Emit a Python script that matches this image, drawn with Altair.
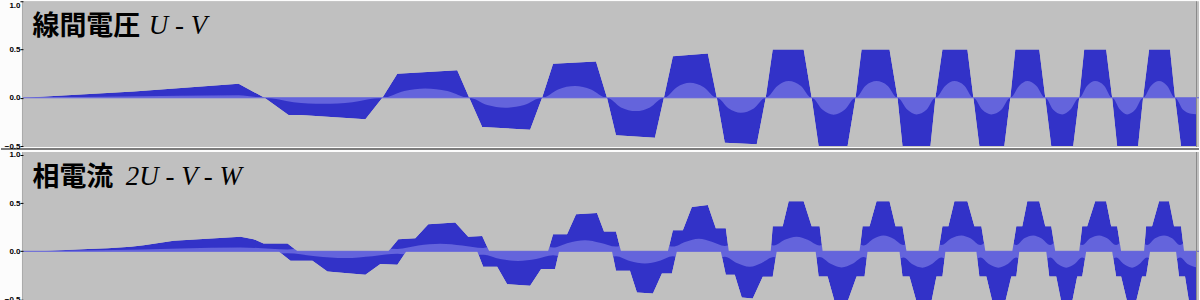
import altair as alt
import pandas as pd

# ---------------- data ----------------
# Top track: line voltage U - V  (max envelope, min envelope, rms)
T_MAX_X = [22, 133, 238, 264, 382, 397, 457, 469, 542, 553, 596, 607, 664, 673, 708, 717,
           766, 773, 804, 812, 856, 862, 890, 898, 936, 943, 968, 974, 1011, 1016, 1040, 1046,
           1080, 1085, 1107, 1113, 1144, 1150, 1171, 1176, 1197]
T_MAX_V = [0, 0.065, 0.145, 0, 0, 0.248, 0.286, 0, 0, 0.352, 0.376, 0, 0, 0.431, 0.459, 0,
           0, 0.5, 0.5, 0, 0, 0.5, 0.5, 0, 0, 0.5, 0.5, 0, 0, 0.5, 0.5, 0,
           0, 0.5, 0.5, 0, 0, 0.5, 0.5, 0, 0]
T_MIN_X = [22, 264, 288, 300, 365, 382, 469, 482, 530, 542, 607, 616, 655, 664, 717, 725, 757, 766,
           812, 819, 848, 856, 898, 903, 931, 936, 974, 980, 1005, 1011, 1046, 1052, 1074, 1080,
           1113, 1118, 1139, 1144, 1176, 1182, 1197]
T_MIN_V = [0, 0, -0.179, -0.179, -0.223, 0, 0, -0.303, -0.331, 0, 0, -0.389, -0.414, 0, 0, -0.465, -0.482, 0,
           0, -0.5, -0.5, 0, 0, -0.5, -0.5, 0, 0, -0.5, -0.5, 0, 0, -0.5, -0.5, 0,
           0, -0.5, -0.5, 0, 0, -0.5, -0.5]
T_RMS_X = [22, 100, 180, 238, 264, 293, 323, 352, 382, 404, 425, 447, 469, 487, 505, 524, 542,
           558, 575, 591, 607, 621, 636, 650, 664, 677, 690, 704, 717, 729, 741, 754, 766,
           778, 789, 801, 812, 823, 834, 845, 856, 866, 877, 888, 898, 908, 917, 927, 936,
           946, 955, 965, 974, 983, 992, 1002, 1011, 1020, 1028, 1037, 1046, 1054, 1063, 1071, 1080,
           1088, 1096, 1105, 1113, 1121, 1128, 1136, 1144, 1152, 1160, 1168, 1176, 1184, 1192, 1197]
T_RMS_V = [0, 0.01, 0.02, 0.027, 0, 0.045, 0.062, 0.045, 0, 0.07, 0.097, 0.07, 0, 0.075, 0.103, 0.075, 0,
           0.087, 0.121, 0.087, 0, 0.1, 0.138, 0.1, 0, 0.11, 0.155, 0.11, 0, 0.11, 0.155, 0.11, 0,
           0.125, 0.173, 0.125, 0, 0.125, 0.175, 0.125, 0, 0.125, 0.173, 0.125, 0, 0.125, 0.172, 0.125, 0,
           0.125, 0.173, 0.125, 0, 0.125, 0.172, 0.125, 0, 0.125, 0.173, 0.125, 0, 0.125, 0.172, 0.125, 0,
           0.125, 0.173, 0.125, 0, 0.125, 0.172, 0.125, 0, 0.125, 0.173, 0.125, 0, 0.125, 0.165, 0.17]

# Bottom track: phase current 2U - V - W
B_MAX_X = [22, 43, 87, 107, 130, 143, 173, 240, 253, 263, 287, 297,
           388, 398, 415, 428, 455, 468, 482, 489,
           548, 553, 567, 576, 597, 604, 616, 621,
           668, 673, 683, 692, 708, 716, 726, 729,
           771, 773, 783, 789, 804, 812, 820, 823,
           860, 863, 870, 877, 890, 896, 903, 907,
           939, 943, 949, 955, 968, 975, 982, 986,
           1013, 1017, 1023, 1028, 1040, 1046, 1052, 1056,
           1080, 1083, 1088, 1096, 1107, 1112, 1118, 1122,
           1145, 1147, 1153, 1160, 1170, 1175, 1182, 1185, 1197]
B_MAX_V = [0, 0.003, 0.023, 0.033, 0.047, 0.064, 0.109, 0.15, 0.126, 0.081, 0.081, 0,
           0, 0.126, 0.136, 0.281, 0.298, 0.15, 0.16, 0,
           0, 0.178, 0.178, 0.385, 0.398, 0.205, 0.205, 0,
           0, 0.219, 0.219, 0.46, 0.48, 0.24, 0.24, 0,
           0, 0.26, 0.26, 0.52, 0.52, 0.26, 0.26, 0,
           0, 0.26, 0.26, 0.52, 0.52, 0.26, 0.26, 0,
           0, 0.26, 0.26, 0.52, 0.52, 0.26, 0.26, 0,
           0, 0.26, 0.26, 0.52, 0.52, 0.26, 0.26, 0,
           0, 0.26, 0.26, 0.52, 0.52, 0.26, 0.26, 0,
           0, 0.26, 0.26, 0.52, 0.52, 0.26, 0.26, 0, 0]
B_MIN_X = [22, 278, 290, 312, 327, 350, 365, 380, 397, 406,
           477, 483, 497, 507, 530, 541, 555, 559,
           612, 616, 630, 637, 653, 662, 672, 677,
           721, 726, 735, 742, 753, 763, 773, 777,
           816, 819, 828, 835, 848, 857, 865, 868,
           900, 903, 910, 917, 932, 937, 943, 946,
           977, 980, 987, 993, 1006, 1012, 1017, 1020,
           1047, 1050, 1057, 1062, 1073, 1078, 1083, 1087,
           1113, 1117, 1122, 1128, 1137, 1143, 1147, 1151,
           1177, 1180, 1186, 1190, 1197]
B_MIN_V = [0, 0, -0.098, -0.098, -0.209, -0.23, -0.243, -0.132, -0.14, 0,
           0, -0.16, -0.16, -0.34, -0.357, -0.184, -0.184, 0,
           0, -0.2, -0.2, -0.426, -0.436, -0.23, -0.23, 0,
           0, -0.243, -0.243, -0.478, -0.49, -0.264, -0.264, 0,
           0, -0.26, -0.26, -0.52, -0.52, -0.26, -0.26, 0,
           0, -0.26, -0.26, -0.52, -0.52, -0.26, -0.26, 0,
           0, -0.26, -0.26, -0.52, -0.52, -0.26, -0.26, 0,
           0, -0.26, -0.26, -0.52, -0.52, -0.26, -0.26, 0,
           0, -0.26, -0.26, -0.52, -0.52, -0.26, -0.26, 0,
           0, -0.26, -0.26, -0.52, -0.52]
B_RMS_X = [22, 100, 180, 240, 287, 315, 345, 372, 397, 418, 440, 462, 483,
           500, 518, 536, 553, 569, 585, 600, 616, 630, 645, 659, 673,
           686, 699, 712, 725, 737, 750, 762, 774, 785, 797, 808, 820,
           831, 842, 853, 864, 874, 884, 894, 904, 913, 923, 932, 942,
           952, 962, 971, 981, 990, 999, 1008, 1017, 1025, 1034, 1042, 1051,
           1059, 1067, 1075, 1083, 1091, 1100, 1108, 1117, 1125, 1133, 1140, 1148,
           1156, 1165, 1173, 1181, 1189, 1197]
B_RMS_V = [0, 0.01, 0.03, 0.04, 0.02, 0.05, 0.07, 0.05, 0.025, 0.06, 0.078, 0.06, 0.035,
           0.08, 0.1, 0.08, 0.04, 0.09, 0.116, 0.09, 0.05, 0.1, 0.126, 0.1, 0.05,
           0.1, 0.13, 0.1, 0.055, 0.12, 0.16, 0.12, 0.06, 0.12, 0.152, 0.12, 0.06,
           0.13, 0.167, 0.13, 0.06, 0.13, 0.163, 0.13, 0.065, 0.135, 0.17, 0.135, 0.065,
           0.135, 0.165, 0.135, 0.065, 0.135, 0.17, 0.135, 0.065, 0.135, 0.165, 0.135, 0.065,
           0.135, 0.17, 0.135, 0.065, 0.135, 0.165, 0.135, 0.065, 0.135, 0.17, 0.135, 0.065,
           0.135, 0.165, 0.135, 0.065, 0.135, 0.165]

TICK_VALUES = [-0.5, 0.0, 0.5, 1.0]

# ---------------- styling ----------------
DARK = "#3232c8"
LIGHT = "#6464dc"
BG = "#c0c0c0"
BORDER = "#8a8a8a"
W = 1178          # plot width: page x 22 .. 1200
X_DOMAIN = [22, 1200]


def panel(max_x, max_v, min_x, min_v, rms_x, rms_v, height, ydom, cjk, latin, latin_x):
    mx = pd.DataFrame({"t": max_x, "v": max_v})
    mn = pd.DataFrame({"t": min_x, "v": min_v})
    rm = pd.DataFrame({"t": rms_x, "r": rms_v})
    one = pd.DataFrame({"a": [0]})

    xs = alt.X("t:Q", scale=alt.Scale(domain=X_DOMAIN, nice=False, zero=False), axis=None)
    ys = alt.Scale(domain=ydom, nice=False, zero=False)
    yax = alt.Axis(values=TICK_VALUES, format=".1f", title=None, zindex=1)

    def Y(field):
        return alt.Y(field, scale=ys, axis=yax, stack=None)

    dark_max = alt.Chart(mx).mark_area(color=DARK, clip=True).encode(x=xs, y=Y("v:Q"), y2=alt.datum(0))
    dark_min = alt.Chart(mn).mark_area(color=DARK, clip=True).encode(x=xs, y=Y("v:Q"), y2=alt.datum(0))
    light_up = alt.Chart(rm).mark_area(color=LIGHT, interpolate="monotone", clip=True).encode(
        x=xs, y=Y("r:Q"), y2=alt.datum(0))
    light_dn = alt.Chart(rm).transform_calculate(nr="-datum.r").mark_area(
        color=LIGHT, interpolate="monotone", clip=True).encode(x=xs, y=Y("nr:Q"), y2=alt.datum(0))
    # gray masks clip the rms band to the min/max envelope
    mask_up = alt.Chart(mx).mark_area(color=BG, clip=True).encode(
        x=xs, y=Y("v:Q"), y2=alt.datum(ydom[1]))
    mask_dn = alt.Chart(mn).mark_area(color=BG, clip=True).encode(
        x=xs, y=Y("v:Q"), y2=alt.datum(ydom[0]))
    zero = alt.Chart(one).transform_calculate(z="0").mark_rule(color=LIGHT, strokeWidth=1).encode(
        y=Y("z:Q"))
    left_edge = alt.Chart(one).mark_rule(color="#a8a8a8", strokeWidth=1).encode(
        x=alt.value(-0.5), y=alt.value(0), y2=alt.value(height))
    right_edge = alt.Chart(one).mark_rule(color=BORDER, strokeWidth=1).encode(
        x=alt.value(W - 2.5), y=alt.value(0), y2=alt.value(height))
    t1 = alt.Chart(one).mark_text(font="Noto Sans CJK JP", fontSize=27, fontWeight="bold",
                                  align="left", baseline="alphabetic", color="#000000").encode(
        x=alt.value(9.5), y=alt.value(34), text=alt.value(cjk))
    t2 = alt.Chart(one).mark_text(font="Liberation Serif", fontStyle="italic", fontSize=27,
                                  align="left", baseline="alphabetic", color="#000000").encode(
        x=alt.value(latin_x), y=alt.value(33), text=alt.value(latin))
    return alt.layer(dark_max, dark_min, light_up, light_dn, mask_up, mask_dn, zero,
                     left_edge, right_edge, t1, t2).properties(width=W, height=height)


top = panel(T_MAX_X, T_MAX_V, T_MIN_X, T_MIN_V, T_RMS_X, T_RMS_V, 146, [-0.51, 1.0],
            "線間電圧", "U - V", 126)
bottom = panel(B_MAX_X, B_MAX_V, B_MIN_X, B_MIN_V, B_RMS_X, B_RMS_V, 160, [-0.626, 1.029],
               "相電流", "2U - V - W", 103)

# track separator drawn in the top panel, extending across the ruler
sep = alt.Chart(pd.DataFrame({"a": [0]})).mark_rule(color="#7c7c7c", strokeWidth=2).encode(
    x=alt.value(-22), x2=alt.value(W), y=alt.value(148))
top = alt.layer(top, sep)

chart = alt.vconcat(top, bottom, spacing=5, bounds="flush").properties(
    padding={"left": 0, "top": 0, "right": 0, "bottom": 0},
    background="#fcfcfc",
).configure_view(fill=BG, strokeWidth=0).configure_axis(
    labelFont="Liberation Sans", labelFontSize=8, labelFontWeight="bold", labelColor="#000000",
    tickColor="#000000", tickSize=3, tickWidth=1, labelPadding=0, domain=False, grid=False,
    labelFlush=0.5,
)

chart.save("out.html", embed_options={"renderer": "svg", "actions": False})
